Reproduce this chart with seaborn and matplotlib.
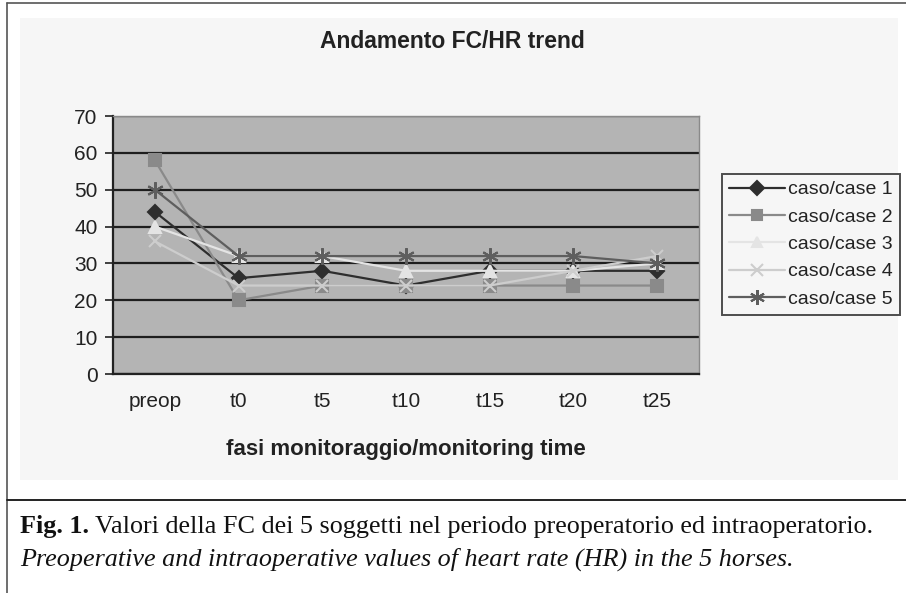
import numpy as np
import pandas as pd
import matplotlib
matplotlib.use("Agg")
import matplotlib.pyplot as plt
import seaborn as sns
from matplotlib.lines import Line2D

# Data
phases = ["preop", "t0", "t5", "t10", "t15", "t20", "t25"]
case1 = [44, 26, 28, 24, 28, 28, 28]
case2 = [58, 20, 24, 24, 24, 24, 24]
case3 = [40, 32, 32, 28, 28, 28, 30]
case4 = [36, 24, 24, 24, 24, 28, 32]
case5 = [50, 32, 32, 32, 32, 32, 30]
case_names = ["caso/case 1", "caso/case 2", "caso/case 3", "caso/case 4", "caso/case 5"]

rows = []
for name, vals in zip(case_names, [case1, case2, case3, case4, case5]):
    for p, v in zip(phases, vals):
        rows.append({"fase": p, "FC": v, "caso": name})
df = pd.DataFrame(rows)

sns.set_theme(style="white")
plt.rcParams["font.family"] = ["Liberation Sans", "DejaVu Sans"]

colors = {"caso/case 1": "#2e2e2e", "caso/case 2": "#8a8a8a", "caso/case 3": "#e4e4e4",
          "caso/case 4": "#cdcdcd", "caso/case 5": "#5e5e5e"}
markers = {"caso/case 1": "D", "caso/case 2": "s", "caso/case 3": "^",
           "caso/case 4": "x", "caso/case 5": (6, 2, 0)}
msize = {"caso/case 1": 7.5, "caso/case 2": 8, "caso/case 3": 8.5,
         "caso/case 4": 9, "caso/case 5": 12}

W, H = 906, 593
fig = plt.figure(figsize=(W / 100, H / 100), dpi=100)
fig.patch.set_facecolor("white")

# light background of the chart area + frame lines
bg = plt.Rectangle((20 / W, 1 - 480 / H), 878 / W, 462 / H, transform=fig.transFigure,
                   facecolor="#f6f6f6", edgecolor="none", zorder=-5)
fig.add_artist(bg)
fig.add_artist(Line2D([7 / W, 7 / W], [0, 1 - 3 / H], color="#555555", lw=1.2))
fig.add_artist(Line2D([7 / W, 1], [1 - 3 / H, 1 - 3 / H], color="#555555", lw=1.2))
fig.add_artist(Line2D([7 / W, 1], [1 - 500 / H, 1 - 500 / H], color="#222222", lw=1.4))

ax = fig.add_axes([113 / W, 1 - 374 / H, 586 / W, 258 / H])
ax.set_zorder(2)
ax.set_facecolor("#b4b4b4")

for name in case_names:
    sub = df[df["caso"] == name]
    sns.lineplot(data=sub, x="fase", y="FC", color=colors[name], marker=markers[name],
                 markersize=msize[name], linewidth=1.6, markeredgewidth=1.5,
                 markeredgecolor=colors[name], legend=False, ax=ax, sort=False)

ax.set_ylim(0, 70)
ax.set_xlim(-0.5, 6.5)
ax.set_yticks(np.arange(0, 71, 10))
ax.yaxis.grid(True, color="#1e1e1e", lw=1.6)
ax.xaxis.grid(False)
ax.set_axisbelow(True)
ax.set_xticks(range(len(phases)))
ax.set_xticklabels(phases)
ax.set_xticks(np.arange(-0.5, 7, 1), minor=True)
ax.tick_params(axis="x", which="major", length=0, pad=13, labelsize=15, colors="#222222")
ax.tick_params(axis="x", which="minor", length=6, width=1.3, color="#333333", direction="out")
ax.tick_params(axis="y", length=6, width=1.3, color="#333333", direction="out", labelsize=15,
               labelcolor="#222222", left=True, pad=5)
for s in ["top", "right"]:
    ax.spines[s].set_color("#8a8a8a")
    ax.spines[s].set_linewidth(1)
for s in ["left", "bottom"]:
    ax.spines[s].set_color("#222222")
    ax.spines[s].set_linewidth(1.6)
ax.set_xlabel("fasi monitoraggio/monitoring time", fontsize=16, fontweight="bold",
              color="#222222")
ax.xaxis.label.set_va("center")
ax.xaxis.set_label_coords(0.5, -75 / 258)
ax.set_ylabel("")

fig.text(452 / W, 1 - 41 / H, "Andamento FC/HR trend", ha="center", va="center",
         fontsize=16.5, fontweight="bold", color="#222222")

handles = [Line2D([0], [0], color=colors[n], marker=markers[n], markersize=msize[n] * 0.9,
                  markeredgecolor=colors[n], markeredgewidth=1.5, lw=1.6) for n in case_names]
leg = fig.legend(handles, case_names, loc="upper left",
                 bbox_to_anchor=(722 / W, 1 - 174 / H), frameon=True, fancybox=False,
                 fontsize=14, handlelength=2.9, handletextpad=0.15, labelspacing=0.5,
                 borderpad=0.35, borderaxespad=0)
leg.get_frame().set_edgecolor("#222222")
leg.get_frame().set_linewidth(1.4)
leg.get_frame().set_facecolor("#f6f6f6")
leg.set_zorder(3)
for t in leg.get_texts():
    t.set_color("#222222")

serif = ["Liberation Serif", "DejaVu Serif"]
fig.canvas.draw()
t1 = fig.text(20 / W, 1 - 533 / H, "Fig. 1.", fontsize=18.8, fontweight="bold", family=serif,
              va="baseline", color="#111111")
bb = t1.get_window_extent(renderer=fig.canvas.get_renderer())
fig.text((bb.x1 + 6) / W, 1 - 533 / H,
         "Valori della FC dei 5 soggetti nel periodo preoperatorio ed intraoperatorio.",
         fontsize=18.8, family=serif, va="baseline", color="#111111")
fig.text(20 / W, 1 - 566 / H,
         "Preoperative and intraoperative values of heart rate (HR) in the 5 horses.",
         fontsize=18.8, family=serif, style="italic", va="baseline", color="#111111")

fig.savefig("out.png", dpi=100)
